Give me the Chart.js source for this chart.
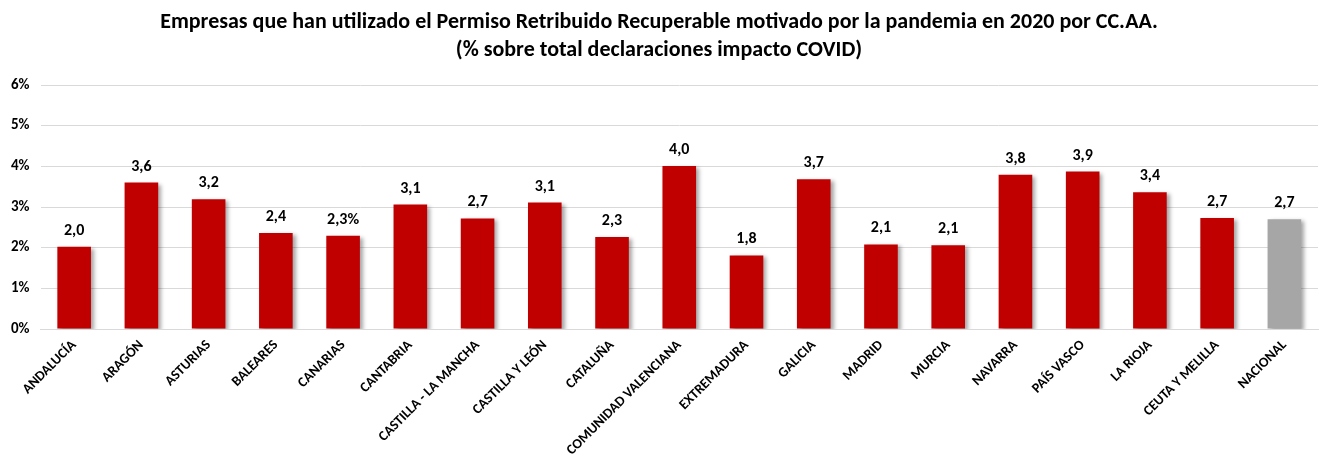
<!DOCTYPE html>
<html>
<head>
<meta charset="utf-8">
<script src="https://cdn.jsdelivr.net/npm/chart.js@4/dist/chart.umd.min.js"></script>
<style>
  html, body { margin: 0; padding: 0; background: #fff; }
  #wrap { width: 1319px; height: 459px; }
</style>
</head>
<body>
<div id="wrap"><canvas id="c"></canvas></div>
<script>
const regiones = ['ANDALUCÍA','ARAGÓN','ASTURIAS','BALEARES','CANARIAS','CANTABRIA','CASTILLA - LA MANCHA','CASTILLA Y LEÓN','CATALUÑA','COMUNIDAD VALENCIANA','EXTREMADURA','GALICIA','MADRID','MURCIA','NAVARRA','PAÍS VASCO','LA RIOJA','CEUTA Y MELILLA','NACIONAL'];
const porcentajes = [2.02, 3.6, 3.19, 2.36, 2.29, 3.06, 2.72, 3.11, 2.26, 4.01, 1.81, 3.68, 2.08, 2.06, 3.79, 3.87, 3.36, 2.73, 2.70];
const etiquetas = ['2,0','3,6','3,2','2,4','2,3%','3,1','2,7','3,1','2,3','4,0','1,8','3,7','2,1','2,1','3,8','3,9','3,4','2,7','2,7'];
const yTicks = [0, 1, 2, 3, 4, 5, 6];

const FONT = 'Carlito, Calibri, Lato, sans-serif';
const colores = regiones.map(r => r === 'NACIONAL' ? '#a6a6a6' : '#c00000');

const barShadow = {
  id: 'barShadow',
  beforeDatasetDraw(chart) {
    const ctx = chart.ctx;
    ctx.save();
    ctx.shadowColor = 'rgba(0,0,0,0.35)';
    ctx.shadowBlur = 4;
    ctx.shadowOffsetX = 3;
    ctx.shadowOffsetY = 2;
  },
  afterDatasetDraw(chart) { chart.ctx.restore(); }
};

const valueLabels = {
  id: 'valueLabels',
  afterDatasetsDraw(chart) {
    const ctx = chart.ctx;
    const meta = chart.getDatasetMeta(0);
    ctx.save();
    ctx.font = 'bold 16px ' + FONT;
    ctx.fillStyle = '#000';
    ctx.textAlign = 'center';
    ctx.textBaseline = 'bottom';
    meta.data.forEach((bar, i) => {
      ctx.fillText(etiquetas[i], bar.x, bar.y - 8);
    });
    ctx.restore();
  }
};

new Chart(document.getElementById('c'), {
  type: 'bar',
  data: {
    labels: regiones,
    datasets: [{ data: porcentajes, backgroundColor: colores, barPercentage: 0.5, categoryPercentage: 1 }]
  },
  options: {
    responsive: true,
    maintainAspectRatio: false,
    animation: false,
    layout: { padding: { left: 0, right: 1, top: 9, bottom: 0 } },
    plugins: {
      legend: { display: false },
      tooltip: { enabled: false },
      title: {
        display: true,
        text: ['Empresas que han utilizado el Permiso Retribuido Recuperable motivado por la pandemia en 2020 por CC.AA.', '(% sobre total declaraciones impacto COVID)'],
        color: '#000',
        font: { family: FONT, size: 22, weight: 'bold', lineHeight: 1.25 },
        padding: { top: 0, bottom: 21 }
      }
    },
    scales: {
      x: {
        grid: { display: false },
        border: { color: '#d9d9d9' },
        afterFit(axis) { axis.height = 130; },
        ticks: {
          color: '#000',
          font: { family: FONT, size: 14, weight: 'bold' },
          minRotation: 45, maxRotation: 45, autoSkip: false, padding: 0
        }
      },
      y: {
        min: 0, max: 6,
        afterBuildTicks(axis) { axis.ticks = yTicks.map(v => ({ value: v })); },
        grid: { color: '#d9d9d9', drawTicks: false },
        border: { display: false },
        ticks: {
          color: '#000',
          padding: 11,
          font: { family: FONT, size: 15, weight: 'bold' },
          callback: v => v + '%'
        }
      }
    }
  },
  plugins: [barShadow, valueLabels]
});
</script>
</body>
</html>
